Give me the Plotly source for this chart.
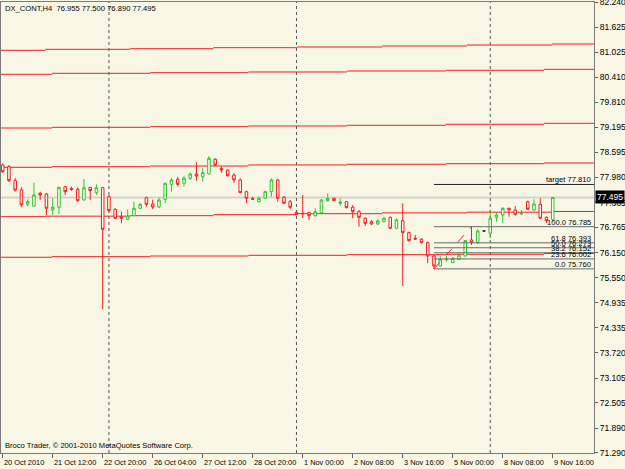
import plotly.graph_objects as go

# ---------------- data ----------------
symbol_header = "DX_CONT,H4  76.955 77.500 76.890 77.495"
footer_text = "Broco Trader, \u00a9 2001-2010 MetaQuotes Software Corp."

time_labels = ["20 Oct 2010", "21 Oct 12:00", "22 Oct 20:00", "26 Oct 04:00",
               "27 Oct 12:00", "28 Oct 20:00", "1 Nov 00:00", "2 Nov 08:00",
               "3 Nov 16:00", "5 Nov 00:00", "8 Nov 08:00", "9 Nov 16:00"]
time_label_bars = [0, 8, 16, 24, 32, 40, 48, 56, 64, 72, 80, 88]
week_start_bars = [17, 47, 78]

opens = [78.283, 78.242, 77.902, 77.676, 77.329, 77.287, 77.596, 77.579, 77.190, 77.256,
         77.756, 77.717, 77.693, 77.433, 77.741, 77.611, 77.732, 77.513, 77.207, 77.020,
         76.964, 77.052, 77.231, 77.489, 77.336, 77.264, 77.450, 77.814, 77.936, 77.838,
         77.960, 78.064, 77.999, 78.064, 78.421, 78.202, 78.161, 78.039, 77.919, 77.635,
         77.474, 77.392, 77.474, 77.635, 77.919, 77.499, 77.392, 77.133, 77.109, 77.125,
         77.052, 77.125, 77.416, 77.474, 77.353, 77.392, 77.256, 77.149, 76.989, 76.907,
         76.851, 76.907, 77.013, 76.746, 76.931, 76.640, 76.502, 76.479, 76.397, 76.074,
         75.831, 75.984, 75.911, 75.993, 76.074, 76.462, 76.397, 76.681, 76.625, 77.013,
         77.069, 77.231, 77.190, 77.099, 77.392, 77.190, 77.329, 77.013, 76.955]
highs = [78.324, 78.283, 77.967, 77.741, 77.450, 77.853, 77.635, 77.603, 77.474, 77.749,
         77.773, 77.756, 77.741, 77.943, 77.749, 77.815, 77.749, 77.554, 77.231, 77.149,
         77.207, 77.392, 77.353, 77.513, 77.440, 77.489, 77.853, 77.967, 77.997, 78.022,
         78.096, 78.349, 78.203, 78.501, 78.446, 78.242, 78.178, 78.081, 77.960, 77.659,
         77.506, 77.513, 77.659, 77.960, 77.943, 77.530, 77.433, 77.149, 77.554, 77.149,
         77.231, 77.450, 77.596, 77.489, 77.474, 77.409, 77.312, 77.190, 77.013, 76.947,
         76.964, 77.028, 77.028, 76.989, 77.353, 76.664, 76.582, 76.503, 76.421, 76.098,
         76.086, 76.074, 76.042, 76.139, 76.462, 76.785, 76.722, 76.705, 77.190, 77.125,
         77.256, 77.247, 77.287, 77.190, 77.416, 77.450, 77.474, 77.028, 77.500]
lows = [78.096, 77.870, 77.635, 77.256, 77.270, 77.270, 77.433, 77.069, 77.069, 77.093,
        77.554, 77.659, 77.392, 77.416, 77.433, 77.554, 74.779, 77.149, 76.964, 76.867,
        76.947, 77.045, 77.207, 77.270, 77.207, 77.231, 77.353, 77.635, 77.756, 77.756,
        77.919, 77.902, 77.878, 78.057, 78.259, 78.096, 77.999, 77.853, 77.596, 77.353,
        77.433, 77.376, 77.457, 77.513, 77.392, 77.336, 77.207, 77.069, 76.997, 76.947,
        77.031, 77.109, 77.392, 77.409, 77.287, 77.231, 76.989, 76.785, 76.802, 76.826,
        76.826, 76.893, 76.722, 76.722, 75.345, 76.421, 76.460, 76.382, 75.899, 75.760,
        75.814, 75.939, 75.899, 75.976, 76.057, 76.340, 76.365, 76.657, 76.503, 76.907,
        76.867, 77.028, 77.052, 77.069, 77.190, 77.173, 76.964, 76.875, 76.890]
closes = [78.120, 77.902, 77.676, 77.312, 77.392, 77.554, 77.554, 77.231, 77.256, 77.741,
          77.635, 77.693, 77.416, 77.732, 77.659, 77.732, 76.722, 77.173, 76.989, 76.996,
          77.045, 77.231, 77.329, 77.329, 77.264, 77.433, 77.838, 77.919, 77.814, 77.960,
          78.064, 78.016, 78.096, 78.446, 78.283, 78.161, 78.022, 77.919, 77.611, 77.474,
          77.450, 77.474, 77.635, 77.919, 77.474, 77.353, 77.256, 77.086, 77.099, 77.052,
          77.149, 77.433, 77.474, 77.416, 77.377, 77.247, 77.149, 77.013, 76.867, 76.851,
          76.924, 76.989, 76.746, 76.948, 76.640, 76.446, 76.485, 76.397, 76.074, 75.831,
          75.993, 75.993, 76.017, 76.098, 76.446, 76.397, 76.681, 76.681, 76.989, 77.069,
          77.231, 77.190, 77.086, 77.109, 77.207, 77.336, 76.989, 76.931, 77.495]

# red stepped levels (two groups with different change times, in bar units)
breaks_a = [7.9, 23.6, 39.3, 55.1, 70.9, 86.6]
breaks_b = [6.8, 20.4, 33.7, 47.1, 60.7, 74.3, 87.9]
level_1 = [81.067, 81.092, 81.106, 81.131, 81.148, 81.172, 81.196, 81.220]  # group b
level_2 = [80.485, 80.509, 80.524, 80.541, 80.565, 80.582, 80.606]          # group a
level_3 = [79.181, 79.198, 79.213, 79.230, 79.247, 79.271, 79.295]          # group a
level_4 = [78.227, 78.241, 78.258, 78.283, 78.300, 78.314, 78.331]          # group a
level_5 = [77.028, 77.040, 77.052, 77.076, 77.100, 77.120, 77.137, 77.154]  # group b
level_6 = [76.042, 76.056, 76.073, 76.090, 76.105, 76.115, 76.134]          # group a

# Fibonacci retracement object
fib_start_bar = 69
fib_end_bar = 75
fib_low = 75.760
fib_high = 76.785
fib_levels = [100.0, 61.8, 50.0, 38.2, 23.6, 0.0]
fib_values = [76.785, 76.393, 76.273, 76.152, 76.002, 75.760]
target_value = 77.810

y_tick_vals = [82.240, 81.625, 81.025, 80.410, 79.810, 79.195, 78.595, 77.980, 77.365,
               76.765, 76.150, 75.550, 74.935, 74.335, 73.720, 73.105, 72.505, 71.890, 71.290]
bid_price = 77.495

# ---------------- styling ----------------
BG = "#F8F7E6"
FILL = "#FCFCF2"
RED = "#F21E1E"
GREEN = "#2EC42E"
FONT = "Liberation Sans, Arial, sans-serif"
x_range = [-0.27, 94.6]
y_range = [71.2895, 82.2405]

n = len(opens)
bars = list(range(n))
doji = [i for i in bars if opens[i] == closes[i]]
normal = [i for i in bars if opens[i] != closes[i]]

fig = go.Figure()
fig.add_trace(go.Candlestick(
    x=[bars[i] for i in normal],
    open=[opens[i] for i in normal], high=[highs[i] for i in normal],
    low=[lows[i] for i in normal], close=[closes[i] for i in normal],
    increasing=dict(line=dict(color=GREEN, width=1), fillcolor=FILL),
    decreasing=dict(line=dict(color=RED, width=1), fillcolor=FILL),
    whiskerwidth=0, showlegend=False, hoverinfo="skip"))
fig.add_trace(go.Candlestick(
    x=[bars[i] for i in doji],
    open=[opens[i] for i in doji], high=[highs[i] for i in doji],
    low=[lows[i] for i in doji], close=[closes[i] for i in doji],
    increasing=dict(line=dict(color="#303030", width=1), fillcolor=FILL),
    decreasing=dict(line=dict(color="#303030", width=1), fillcolor=FILL),
    whiskerwidth=0, showlegend=False, hoverinfo="skip"))

shapes = []
# bid line
shapes.append(dict(type="line", xref="paper", x0=0, x1=1, yref="y", y0=bid_price, y1=bid_price,
                   line=dict(color="#D3D3CA", width=2), layer="below"))
# week separators
for b in week_start_bars:
    shapes.append(dict(type="line", xref="x", x0=b, x1=b, yref="paper", y0=0, y1=1,
                       line=dict(color="#555555", width=1, dash="dot"), layer="below"))
# stepped red levels
for levels, brk in [(level_1, breaks_b), (level_2, breaks_a), (level_3, breaks_a),
                    (level_4, breaks_a), (level_5, breaks_b), (level_6, breaks_a)]:
    edges = [x_range[0]] + brk + [x_range[1]]
    for k, v in enumerate(levels):
        shapes.append(dict(type="line", xref="x", x0=edges[k], x1=edges[k + 1],
                           yref="y", y0=v, y1=v, line=dict(color=RED, width=1), layer="below"))
# fib lines
shapes.append(dict(type="line", xref="x", x0=fib_start_bar, x1=x_range[1], yref="y",
                   y0=target_value, y1=target_value, line=dict(color="#202020", width=1)))
for v in fib_values:
    shapes.append(dict(type="line", xref="x", x0=fib_start_bar, x1=x_range[1], yref="y",
                       y0=v, y1=v, line=dict(color="#6A6A6A", width=1)))
shapes.append(dict(type="line", xref="x", x0=fib_start_bar, x1=fib_end_bar, yref="y",
                   y0=fib_low, y1=fib_high, line=dict(color=RED, width=1, dash="dash")))

annotations = []
annotations.append(dict(text=symbol_header, xref="paper", yref="paper", x=0, y=1,
                        xanchor="left", yanchor="top", xshift=2, yshift=0, showarrow=False,
                        font=dict(family=FONT, size=7.6, color="#000000")))
annotations.append(dict(text=footer_text, xref="paper", yref="paper", x=0, y=0,
                        xanchor="left", yanchor="bottom", xshift=2, yshift=1, showarrow=False,
                        font=dict(family=FONT, size=7.6, color="#000000")))
for b, t in zip(time_label_bars, time_labels):
    annotations.append(dict(text=t, xref="x", yref="paper", x=b, y=0, xanchor="left",
                            yanchor="top", xshift=-1, yshift=-3, showarrow=False,
                            font=dict(family=FONT, size=7.4, color="#000000")))
annotations.append(dict(text="target %.3f" % target_value, xref="paper", yref="y", x=1,
                        y=target_value, xanchor="right", yanchor="bottom", xshift=-1, yshift=-2,
                        showarrow=False, font=dict(family=FONT, size=7.6, color="#000000")))
for lv, v in zip(fib_levels, fib_values):
    annotations.append(dict(text="%.1f %.3f" % (lv, v), xref="paper", yref="y", x=1, y=v,
                            xanchor="right", yanchor="bottom", xshift=-1, yshift=-2,
                            showarrow=False, font=dict(family=FONT, size=7.6, color="#000000")))
annotations.append(dict(text="%.3f" % bid_price, xref="paper", yref="y", x=1, y=bid_price,
                        xanchor="left", yanchor="middle", xshift=1, showarrow=False,
                        bgcolor="#000000", borderpad=1,
                        font=dict(family=FONT, size=8.5, color="#FFFFFF")))

fig.update_layout(
    width=625, height=469,
    margin=dict(l=1, r=31, t=2, b=16, autoexpand=False),
    paper_bgcolor=BG, plot_bgcolor=BG,
    showlegend=False,
    boxgap=0.42,
    shapes=shapes, annotations=annotations,
    xaxis=dict(range=x_range, tickvals=time_label_bars, ticktext=[""] * len(time_label_bars),
               showticklabels=False, ticks="outside", ticklen=4, tickcolor="#606060",
               showgrid=False, zeroline=False, showline=True, mirror=True, automargin=False,
               linecolor="#7A7A7A", linewidth=1, rangeslider=dict(visible=False)),
    yaxis=dict(range=y_range, side="right", tickvals=y_tick_vals,
               ticktext=["%.3f" % v for v in y_tick_vals], ticks="outside", ticklen=3,
               tickcolor="#606060", showgrid=False, zeroline=False, showline=True,
               mirror=True, linecolor="#7A7A7A", linewidth=1, ticklabeloverflow="allow",
               automargin=False,
               tickfont=dict(family=FONT, size=8.5, color="#000000")),
)

fig.write_html("out.html")
